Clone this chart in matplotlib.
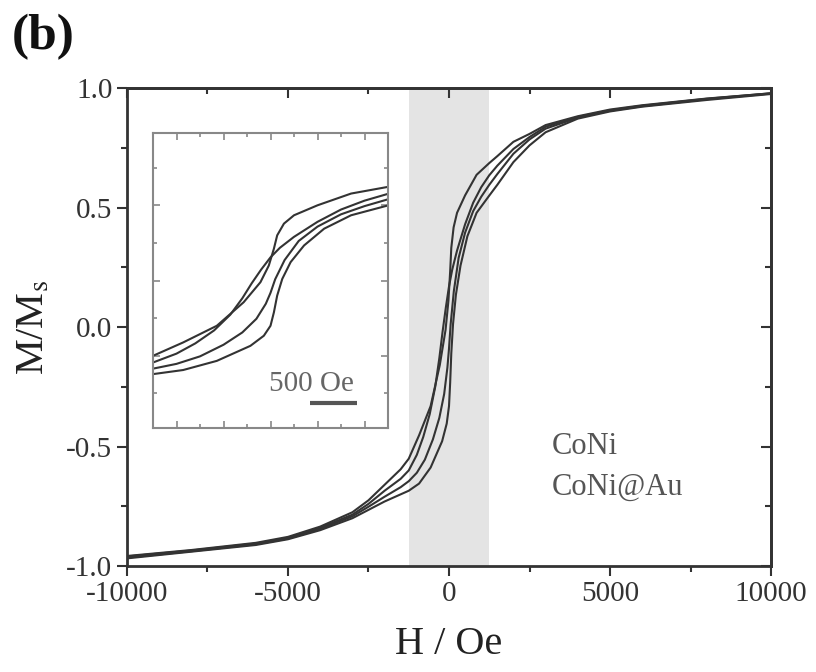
import matplotlib
matplotlib.use("Agg")
import matplotlib.pyplot as plt
from matplotlib.ticker import MultipleLocator, NullFormatter, FormatStrFormatter

plt.rcParams['font.family'] = ['Liberation Serif', 'DejaVu Serif']
plt.rcParams['mathtext.fontset'] = 'stix'
plt.rcParams['axes.unicode_minus'] = False

# hysteresis branches (H in Oe, M/Ms)
# outer loop (wider, kinked): descending / ascending
h_a = [-10000, -8000, -6000, -5000, -4000, -3000, -2500, -2000, -1500, -1250, -929, -571, -286,
       -107, -18, 36, 71, 143, 250, 500, 857, 1250, 1500, 2000, 2500, 3000, 4000, 5000, 6000, 8000, 10000]
m_a = [-0.958, -0.933, -0.903, -0.878, -0.835, -0.775, -0.725, -0.66, -0.595, -0.551, -0.453, -0.331, -0.159,
       -0.012, 0.110, 0.233, 0.331, 0.417, 0.478, 0.551, 0.637, 0.686, 0.715, 0.775, 0.808, 0.845, 0.882, 0.91, 0.928, 0.956, 0.978]

h_b = [-10000, -8000, -6000, -5000, -4000, -3000, -2500, -2000, -1500, -1250, -929, -571, -214,
       -71, 0, 36, 71, 125, 214, 357, 571, 857, 1250, 1500, 2000, 2500, 3000, 4000, 5000, 6000, 8000, 10000]
m_b = [-0.968, -0.94, -0.912, -0.888, -0.85, -0.80, -0.765, -0.73, -0.70, -0.685, -0.655, -0.588, -0.478,
       -0.404, -0.331, -0.233, -0.110, 0.012, 0.135, 0.257, 0.380, 0.478, 0.55, 0.595, 0.69, 0.76, 0.815, 0.872, 0.902, 0.922, 0.95, 0.975]

# inner loop: descending / ascending
h_c = [-10000, -8000, -6000, -5000, -4000, -3000, -2500, -2000, -1500, -1250, -1000, -800, -600, -428,
       -300, -200, -100, 0, 100, 250, 500, 750, 1000, 1250, 1500, 2000, 2500, 3000, 4000, 5000, 6000, 8000, 10000]
m_c = [-0.96, -0.935, -0.906, -0.882, -0.84, -0.785, -0.74, -0.685, -0.635, -0.60, -0.535, -0.46, -0.365, -0.25,
       -0.13, -0.02, 0.08, 0.17, 0.24, 0.32, 0.43, 0.52, 0.585, 0.635, 0.675, 0.745, 0.795, 0.838, 0.879, 0.907, 0.926, 0.955, 0.978]

h_d = [-10000, -8000, -6000, -5000, -4000, -3000, -2500, -2000, -1500, -1250, -1000, -750, -500, -300,
       -150, -50, 0, 50, 150, 300, 500, 750, 1000, 1250, 1500, 2000, 2500, 3000, 4000, 5000, 6000, 8000, 10000]
m_d = [-0.965, -0.938, -0.909, -0.885, -0.845, -0.792, -0.752, -0.71, -0.67, -0.645, -0.61, -0.555, -0.47, -0.38,
       -0.28, -0.17, -0.09, 0.01, 0.15, 0.29, 0.395, 0.485, 0.545, 0.595, 0.64, 0.725, 0.785, 0.83, 0.876, 0.905, 0.924, 0.953, 0.977]

branches = [(h_a, m_a), (h_b, m_b), (h_c, m_c), (h_d, m_d)]
samples = ['CoNi', 'CoNi@Au']
zoom_range = (-1250, 1250)

line_color = '#333333'
axis_color = '#333333'

fig = plt.figure(figsize=(8.16, 6.72), dpi=100)
ax = fig.add_axes([0.1556, 0.1577, 0.7893, 0.7113])

ax.axvspan(zoom_range[0], zoom_range[1], color='#e4e4e4', lw=0, zorder=0)
for h, m in branches:
    ax.plot(h, m, color=line_color, lw=1.5, zorder=2)

ax.set_xlim(-10000, 10000)
ax.set_ylim(-1.0, 1.0)
ax.xaxis.set_major_locator(MultipleLocator(5000))
ax.xaxis.set_minor_locator(MultipleLocator(2500))
ax.yaxis.set_major_locator(MultipleLocator(0.5))
ax.yaxis.set_minor_locator(MultipleLocator(0.25))
ax.yaxis.set_major_formatter(FormatStrFormatter('%.1f'))
ax.tick_params(which='both', direction='out', labelsize=21, width=1.5, colors=axis_color)
ax.tick_params(which='major', length=7)
ax.tick_params(which='minor', length=4)

# mirror ticks on top/right, pointing inward
top = ax.secondary_xaxis('top')
top.xaxis.set_major_locator(MultipleLocator(5000))
top.xaxis.set_minor_locator(MultipleLocator(2500))
top.xaxis.set_major_formatter(NullFormatter())
right = ax.secondary_yaxis('right')
right.yaxis.set_major_locator(MultipleLocator(0.5))
right.yaxis.set_minor_locator(MultipleLocator(0.25))
right.yaxis.set_major_formatter(NullFormatter())
for sec, side in [(top, 'top'), (right, 'right')]:
    sec.tick_params(which='both', direction='in', width=1.5, colors=axis_color)
    sec.tick_params(which='major', length=7)
    sec.tick_params(which='minor', length=4)
    sec.spines[side].set_linewidth(2)
    sec.spines[side].set_color(axis_color)
for s in ax.spines.values():
    s.set_linewidth(2)
    s.set_color(axis_color)

ax.set_xlabel('H / Oe', fontsize=29, color='#222222', labelpad=14)
ax.set_ylabel(r'M/M$_\mathrm{s}$', fontsize=29, color='#222222', labelpad=10)

ax.text(3200, -0.5, samples[0], fontsize=22, color='#555555', va='center', ha='left')
ax.text(3200, -0.67, samples[1], fontsize=22, color='#555555', va='center', ha='left')

fig.text(0.014, 0.945, '(b)', fontsize=37, fontweight='bold', va='center', ha='left', color='#111111')

# inset: zoom on the shaded field range
axin = fig.add_axes([0.1875, 0.363, 0.288, 0.439])
for h, m in branches:
    axin.plot(h, m, color=line_color, lw=1.5)
axin.set_xlim(*zoom_range)
axin.set_ylim(-1.08, 1.08)
axin.xaxis.set_major_locator(MultipleLocator(500))
axin.xaxis.set_minor_locator(MultipleLocator(250))
axin.yaxis.set_major_locator(MultipleLocator(0.55))
axin.yaxis.set_minor_locator(MultipleLocator(0.275))
axin.tick_params(which='both', direction='in', top=True, right=True,
                 labelbottom=False, labelleft=False, color='#888888', width=1.2)
axin.tick_params(which='major', length=5)
axin.tick_params(which='minor', length=3)
for s in axin.spines.values():
    s.set_linewidth(1.5)
    s.set_color('#888888')

# scale bar
axin.plot([420, 920], [-0.90, -0.90], color='#555555', lw=3, solid_capstyle='butt')
axin.text(440, -0.76, '500 Oe', fontsize=21, color='#666666', ha='center', va='center')

fig.savefig('out.png', dpi=100)
